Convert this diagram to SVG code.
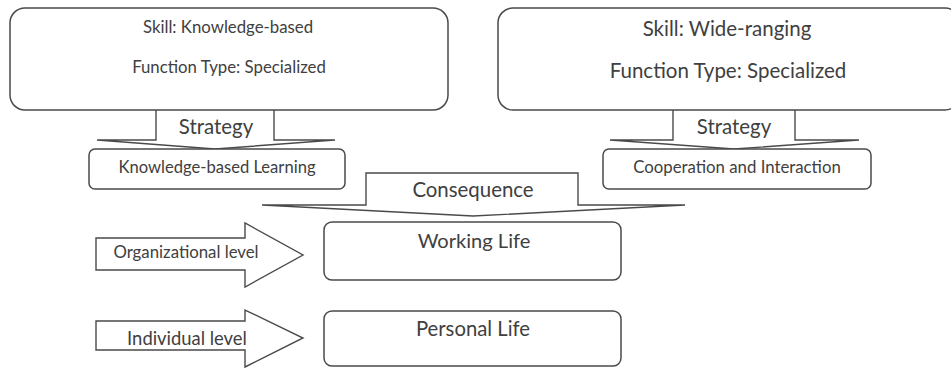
<svg xmlns="http://www.w3.org/2000/svg" width="951" height="369" viewBox="0 0 951 369">
<style>
.box{fill:#fff;stroke:#4a4a4a;stroke-width:1.5}
.arr{fill:#fff;stroke:#4a4a4a;stroke-width:1.4;stroke-linejoin:miter}
text{font-family:Lato,"Open Sans",sans-serif;fill:#404040;text-anchor:middle}
</style>
<rect width="951" height="369" fill="#fff"/>
<g id="connectors">
<path class="arr" d="M156,110 L156,140 L97,140 L215,149 L335,140 L274,140 L274,110"/>
<path class="arr" d="M673,110 L673,140 L610,140 L734,149 L859,140 L795,140 L795,110"/>
<path class="arr" d="M366,173 L366,205 L262,205 L473,216 L685,205 L578,205 L578,173 Z"/>
<g id="org-arrow">
<path class="arr" d="M96,238 L245,238 L245,223 L303,255 L245,287 L245,270 L96,270 Z"/>
<text x="186" y="258" font-size="16.8">Organizational level</text>
</g>
<g id="ind-arrow">
<path class="arr" d="M96,321 L245,321 L245,310 L303,338 L245,367 L245,350 L96,350 Z"/>
<text x="187" y="345" font-size="18.4">Individual level</text>
</g>
<text x="216" y="134" font-size="20.4">Strategy</text>
<text x="734" y="134" font-size="20.4">Strategy</text>
<text x="473" y="197" font-size="20.4">Consequence</text>
</g>
<g id="skill-knowledge">
<rect class="box" x="10" y="8" width="438" height="102" rx="15"/>
<text x="228" y="33" font-size="16.8">Skill: Knowledge-based</text>
<text x="229" y="73" font-size="16.8">Function Type: Specialized</text>
</g>
<g id="skill-wide">
<rect class="box" x="498" y="8" width="462" height="102" rx="15"/>
<text x="727" y="36" font-size="20.5">Skill: Wide-ranging</text>
<text x="728" y="78" font-size="20.5">Function Type: Specialized</text>
</g>
<g id="kbl">
<rect class="box" x="89" y="149" width="256" height="40" rx="6"/>
<text x="217" y="173" font-size="16.6">Knowledge-based Learning</text>
</g>
<g id="coop">
<rect class="box" x="603" y="149" width="268" height="40" rx="6"/>
<text x="737" y="173" font-size="16.8">Cooperation and Interaction</text>
</g>
<g id="working">
<rect class="box" x="324" y="222" width="297" height="58" rx="8"/>
<text x="474" y="248" font-size="20.1">Working Life</text>
</g>
<g id="personal">
<rect class="box" x="324" y="311" width="297" height="55" rx="8"/>
<text x="473" y="336" font-size="20.3">Personal Life</text>
</g>
</svg>
